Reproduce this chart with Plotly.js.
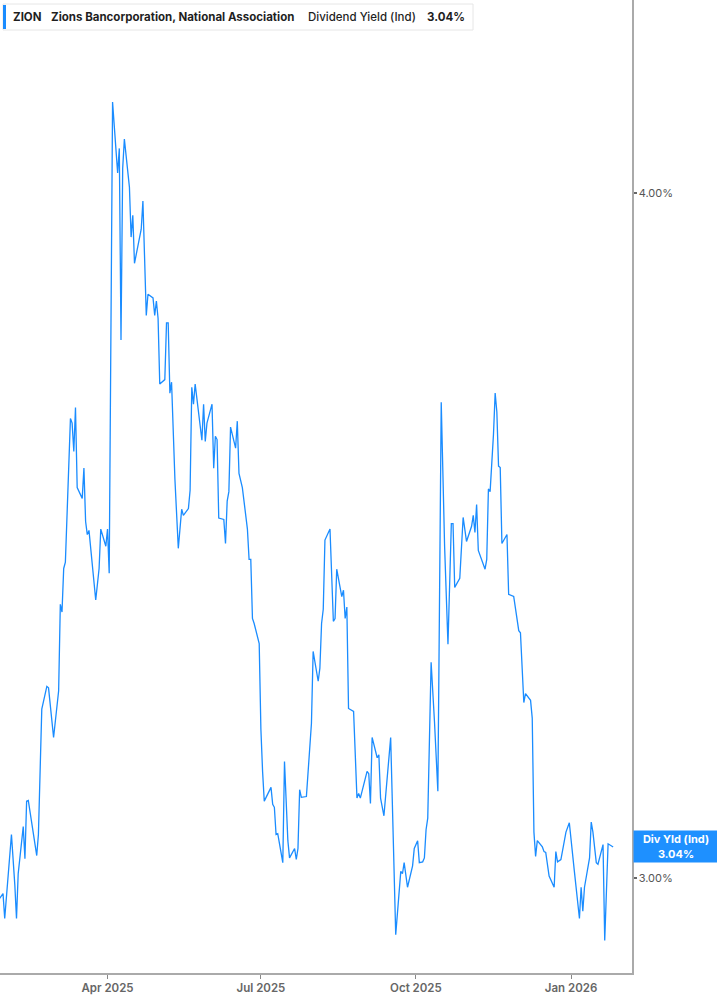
<!DOCTYPE html>
<html>
<head>
<meta charset="utf-8">
<script src="https://cdn.plot.ly/plotly-3.0.1.min.js"></script>
<style>
  html, body { margin: 0; padding: 0; background: #ffffff; }
  #chart { width: 717px; height: 1005px; }
</style>
</head>
<body>
<div id="chart"></div>
<script>
// ---- Data ----
const ticker = "ZION";
const companyName = "Zions Bancorporation, National Association";
const metricName = "Dividend Yield (Ind)";
const lastLabel = "Div Yld (Ind)";

const dates = [
  "2025-01-27","2025-01-29","2025-01-30","2025-02-03","2025-02-05","2025-02-06","2025-02-07","2025-02-10","2025-02-11","2025-02-12",
  "2025-02-13","2025-02-18","2025-02-19","2025-02-21","2025-02-24","2025-02-25","2025-02-28","2025-03-03","2025-03-04","2025-03-05",
  "2025-03-06","2025-03-07","2025-03-10","2025-03-11","2025-03-12","2025-03-13","2025-03-14","2025-03-17","2025-03-18","2025-03-19",
  "2025-03-20","2025-03-21","2025-03-25","2025-03-27","2025-03-28","2025-03-31","2025-04-01","2025-04-02","2025-04-04","2025-04-07",
  "2025-04-08","2025-04-09","2025-04-10","2025-04-11","2025-04-14","2025-04-15","2025-04-16","2025-04-17","2025-04-21","2025-04-22",
  "2025-04-24","2025-04-25","2025-04-28","2025-04-29","2025-04-30","2025-05-01","2025-05-02","2025-05-05","2025-05-06","2025-05-07",
  "2025-05-08","2025-05-09","2025-05-11","2025-05-13","2025-05-15","2025-05-16","2025-05-19","2025-05-20","2025-05-21","2025-05-22",
  "2025-05-23","2025-05-27","2025-05-28","2025-05-29","2025-05-30","2025-06-02","2025-06-03","2025-06-04","2025-06-05","2025-06-06",
  "2025-06-09","2025-06-10","2025-06-11","2025-06-12","2025-06-13","2025-06-16","2025-06-17","2025-06-18","2025-06-20","2025-06-22",
  "2025-06-23","2025-06-24","2025-06-25","2025-06-26","2025-06-27","2025-06-30","2025-07-01","2025-07-02","2025-07-03","2025-07-07",
  "2025-07-08","2025-07-09","2025-07-10","2025-07-11","2025-07-14","2025-07-15","2025-07-17","2025-07-18","2025-07-21","2025-07-22",
  "2025-07-23","2025-07-24","2025-07-25","2025-07-28","2025-07-30","2025-07-31","2025-08-01","2025-08-04","2025-08-05","2025-08-06",
  "2025-08-07","2025-08-08","2025-08-11","2025-08-13","2025-08-14","2025-08-15","2025-08-18","2025-08-19","2025-08-20","2025-08-21",
  "2025-08-22","2025-08-25","2025-08-27","2025-08-28","2025-08-29","2025-09-02","2025-09-03","2025-09-04","2025-09-05","2025-09-08",
  "2025-09-09","2025-09-10","2025-09-12","2025-09-16","2025-09-19","2025-09-22","2025-09-23","2025-09-24","2025-09-26","2025-09-29",
  "2025-09-30","2025-10-01","2025-10-02","2025-10-03","2025-10-05","2025-10-06","2025-10-07","2025-10-08","2025-10-10","2025-10-12",
  "2025-10-14","2025-10-16","2025-10-18","2025-10-20","2025-10-22","2025-10-23","2025-10-24","2025-10-27","2025-10-29","2025-10-31",
  "2025-11-02","2025-11-03","2025-11-04","2025-11-05","2025-11-06","2025-11-07","2025-11-11","2025-11-12","2025-11-13","2025-11-14",
  "2025-11-16","2025-11-17","2025-11-18","2025-11-19","2025-11-20","2025-11-21","2025-11-24","2025-11-25","2025-11-28","2025-12-01",
  "2025-12-02","2025-12-04","2025-12-05","2025-12-08","2025-12-09","2025-12-10","2025-12-11","2025-12-12","2025-12-15","2025-12-16",
  "2025-12-17","2025-12-19","2025-12-22","2025-12-23","2025-12-24","2025-12-26","2025-12-29","2025-12-31","2026-01-03","2026-01-06",
  "2026-01-07","2026-01-08","2026-01-09","2026-01-12","2026-01-13","2026-01-14","2026-01-16","2026-01-17","2026-01-20","2026-01-21",
  "2026-01-23","2026-01-26"
];

const yields = [
  2.975,2.981,2.950,3.056,2.992,2.950,3.006,3.066,3.025,3.099,
  3.100,3.029,3.056,3.221,3.252,3.250,3.183,3.246,3.366,3.355,
  3.417,3.426,3.639,3.632,3.589,3.656,3.535,3.519,3.564,3.485,
  3.466,3.472,3.372,3.417,3.474,3.449,3.474,3.410,4.156,4.034,
  4.076,3.761,4.042,4.092,4.010,3.927,3.963,3.884,3.940,3.987,
  3.800,3.834,3.828,3.800,3.823,3.795,3.692,3.699,3.788,3.788,
  3.678,3.695,3.547,3.446,3.503,3.494,3.504,3.531,3.687,3.661,
  3.692,3.606,3.661,3.604,3.632,3.661,3.564,3.612,3.607,3.490,
  3.488,3.453,3.515,3.529,3.626,3.594,3.635,3.556,3.535,3.490,
  3.474,3.430,3.430,3.346,3.339,3.311,3.194,3.138,3.099,3.117,
  3.095,3.091,3.056,3.057,3.020,3.151,3.048,3.026,3.038,3.024,
  3.038,3.114,3.104,3.105,3.164,3.202,3.300,3.259,3.277,3.339,
  3.359,3.458,3.474,3.342,3.346,3.416,3.377,3.386,3.346,3.362,
  3.222,3.218,3.103,3.109,3.103,3.138,3.135,3.096,3.183,3.156,
  3.160,3.103,3.080,3.183,2.930,3.009,3.006,3.020,2.989,3.016,
  3.038,3.044,3.048,3.020,3.021,3.026,3.062,3.077,3.285,3.204,
  3.112,3.664,3.449,3.310,3.482,3.482,3.390,3.403,3.491,3.456,
  3.469,3.478,3.494,3.469,3.510,3.443,3.416,3.430,3.533,3.529,
  3.615,3.678,3.649,3.567,3.565,3.453,3.466,3.380,3.377,3.329,
  3.326,3.230,3.242,3.233,3.209,3.059,3.028,3.048,3.040,3.034,
  3.033,3.003,2.989,3.034,3.021,3.024,3.059,3.071,3.009,2.950,
  2.989,2.959,2.989,3.026,3.072,3.059,3.020,3.018,3.043,2.923,
  3.044,3.040
];

const xTickVals = ["2025-04-01","2025-07-01","2025-10-01","2026-01-01"];
const xTickText = ["Apr 2025","Jul 2025","Oct 2025","Jan 2026"];
const yTickVals = [3, 4];
const yTickText = ["3.00%","4.00%"];

// ---- Layout helpers (pixel -> paper fractions for decoration only) ----
const W = 717, H = 1005;
const M = {l: 0, r: 85, t: 0, b: 32};
const PW = W - M.l - M.r, PH = H - M.t - M.b;
const px = v => (v - M.l) / PW;
const py = v => 1 - (v - M.t) / PH;

const lastVal = yields[yields.length - 1];
const lineColor = "#1a8cff";
const fontFam = "Inter, 'Noto Sans', Roboto, sans-serif";
const hdrSize = 11.5;

const trace = {
  x: dates,
  y: yields,
  type: "scatter",
  mode: "lines",
  line: {color: lineColor, width: 1.3},
  hoverinfo: "skip"
};

const layout = {
  width: W, height: H,
  margin: M,
  paper_bgcolor: "#ffffff",
  plot_bgcolor: "#ffffff",
  showlegend: false,
  font: {family: fontFam, color: "#555"},
  xaxis: {
    type: "date",
    range: ["2025-01-27 05:00:00", "2026-02-06 04:30:00"],
    tickvals: xTickVals,
    ticktext: xTickText,
    ticks: "outside",
    ticklen: 4,
    tickwidth: 1,
    tickcolor: "#888",
    showline: true,
    linecolor: "#aaaaaa",
    linewidth: 1.5,
    showgrid: false,
    zeroline: false,
    tickfont: {family: fontFam, size: 11.5, color: "#666", weight: 600},
    fixedrange: true
  },
  yaxis: {
    type: "log",
    side: "right",
    range: [Math.log10(2.8833), Math.log10(4.338)],
    tickvals: yTickVals,
    ticktext: yTickText,
    ticks: "outside",
    ticklen: 3,
    tickwidth: 2,
    tickcolor: "#666",
    showline: true,
    linecolor: "#aaaaaa",
    linewidth: 1.5,
    showgrid: false,
    zeroline: false,
    tickfont: {family: fontFam, size: 11, color: "#555"},
    fixedrange: true
  },
  shapes: [
    {type: "rect", xref: "paper", yref: "paper",
     x0: px(3), x1: px(473), y0: py(30), y1: py(4),
     fillcolor: "#ffffff", line: {color: "#e6e6e6", width: 1}, layer: "above"},
    {type: "rect", xref: "paper", yref: "paper",
     x0: px(3), x1: px(6), y0: py(29), y1: py(5),
     fillcolor: lineColor, line: {width: 0}, layer: "above"}
  ],
  annotations: [
    {xref: "paper", yref: "paper", x: px(11), y: py(17), xanchor: "left", yanchor: "middle",
     text: ticker, showarrow: false, font: {family: fontFam, size: hdrSize, color: "#1f1f1f", weight: 700}},
    {xref: "paper", yref: "paper", x: px(49), y: py(17), xanchor: "left", yanchor: "middle",
     text: companyName, showarrow: false, font: {family: fontFam, size: hdrSize, color: "#1f1f1f", weight: 700}},
    {xref: "paper", yref: "paper", x: px(306), y: py(17), xanchor: "left", yanchor: "middle",
     text: metricName, showarrow: false, font: {family: fontFam, size: hdrSize, color: "#1f1f1f", weight: 500}},
    {xref: "paper", yref: "paper", x: px(425), y: py(17), xanchor: "left", yanchor: "middle",
     text: lastVal.toFixed(2) + "%", showarrow: false, font: {family: fontFam, size: hdrSize, color: "#1f1f1f", weight: 700}},
    {xref: "paper", yref: "y", x: 1, y: Math.log10(lastVal), xanchor: "left", yanchor: "middle",
     xshift: 1, width: 84, height: 31, borderpad: 0, bgcolor: "#1e90ff",
     text: lastLabel + "<br>" + lastVal.toFixed(2) + "%", showarrow: false, align: "center",
     font: {family: fontFam, size: 11, color: "#ffffff", weight: 700}}
  ]
};

Plotly.newPlot("chart", [trace], layout, {displayModeBar: false, staticPlot: true});
</script>
</body>
</html>
